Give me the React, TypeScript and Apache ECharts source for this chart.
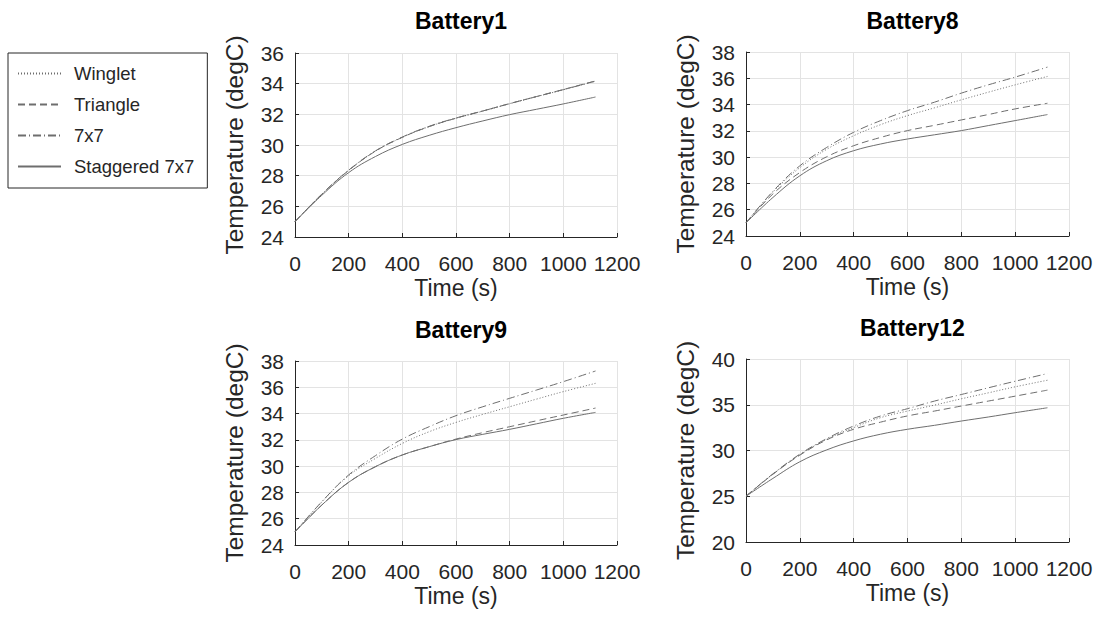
import React, { useEffect, useRef } from "react";
import * as echarts from "echarts";

const TIME = [0, 100, 200, 300, 400, 500, 600, 700, 800, 900, 1000, 1120];
const SERIES_NAMES = ["Winglet", "Triangle", "7x7", "Staggered 7x7"];
const TITLES = ["Battery1", "Battery8", "Battery9", "Battery12"];
const X_TICKS = { min: 0, max: 1200, interval: 200 };
const Y_RANGES = [
  { min: 24, max: 36, interval: 2 },
  { min: 24, max: 38, interval: 2 },
  { min: 24, max: 38, interval: 2 },
  { min: 20, max: 40, interval: 5 },
];

// Battery1
const B1_WINGLET = [25, 26.79, 28.35, 29.6, 30.5, 31.2, 31.74, 32.21, 32.69, 33.15, 33.6, 34.16];
const B1_TRIANGLE = [25, 26.79, 28.34, 29.6, 30.5, 31.2, 31.75, 32.22, 32.7, 33.16, 33.62, 34.18];
const B1_7X7 = [25, 26.8, 28.36, 29.62, 30.52, 31.22, 31.76, 32.22, 32.7, 33.16, 33.61, 34.17];
const B1_STAG = [25, 26.72, 28.2, 29.25, 30.04, 30.63, 31.13, 31.57, 31.98, 32.33, 32.68, 33.13];
// Battery8
const B8_WINGLET = [25, 27.35, 29.2, 30.6, 31.63, 32.47, 33.16, 33.75, 34.36, 34.94, 35.5, 36.14];
const B8_TRIANGLE = [25, 27.2, 28.83, 30.03, 30.87, 31.5, 32.02, 32.42, 32.83, 33.24, 33.67, 34.1];
const B8_7X7 = [25, 27.4, 29.34, 30.74, 31.89, 32.78, 33.54, 34.18, 34.87, 35.5, 36.09, 36.85];
const B8_STAG = [25, 26.93, 28.58, 29.73, 30.49, 31.0, 31.38, 31.7, 32.02, 32.4, 32.78, 33.24];
// Battery9
const B9_WINGLET = [25, 27.28, 29.27, 30.59, 31.73, 32.62, 33.33, 33.94, 34.52, 35.1, 35.67, 36.3];
const B9_TRIANGLE = [25, 27.04, 28.77, 29.96, 30.85, 31.48, 32.06, 32.55, 33.0, 33.45, 33.89, 34.42];
const B9_7X7 = [25, 27.3, 29.33, 30.8, 32.06, 33.0, 33.84, 34.52, 35.16, 35.79, 36.43, 37.24];
const B9_STAG = [25, 27.04, 28.77, 29.96, 30.85, 31.48, 32.02, 32.42, 32.8, 33.22, 33.64, 34.09];
// Battery12
const B12_WINGLET = [25, 27.42, 29.53, 31.23, 32.5, 33.59, 34.31, 34.96, 35.65, 36.3, 36.96, 37.68];
const B12_TRIANGLE = [25, 27.4, 29.49, 31.16, 32.32, 33.1, 33.78, 34.31, 34.86, 35.4, 35.94, 36.6];
const B12_7X7 = [25, 27.45, 29.6, 31.3, 32.68, 33.77, 34.57, 35.4, 36.12, 36.85, 37.57, 38.41];
const B12_STAG = [25, 26.95, 28.77, 30.07, 31.05, 31.78, 32.32, 32.75, 33.22, 33.66, 34.13, 34.67];

const PANELS = [
  [B1_WINGLET, B1_TRIANGLE, B1_7X7, B1_STAG],
  [B8_WINGLET, B8_TRIANGLE, B8_7X7, B8_STAG],
  [B9_WINGLET, B9_TRIANGLE, B9_7X7, B9_STAG],
  [B12_WINGLET, B12_TRIANGLE, B12_7X7, B12_STAG],
];

const FONT = "'Liberation Sans', Arial, Helvetica, sans-serif";
const AXIS_COLOR = "#262626";
const LINE_COLOR = "#6e6e6e";
const DASH_TYPES: any[] = [[1, 2], [7, 4], [8, 3, 1, 3], "solid"];

const GRIDS = [
  { left: 295, top: 53, width: 322, height: 184 },
  { left: 746, top: 52, width: 323, height: 184 },
  { left: 295, top: 361, width: 322, height: 184 },
  { left: 746, top: 359, width: 323, height: 183 },
];
const TITLE_TOPS = [4, 4, 313, 311];

export default function App() {
  const ref = useRef<HTMLDivElement>(null);
  useEffect(() => {
    if (!ref.current) return;
    const chart = echarts.init(ref.current, undefined, { renderer: "svg" });
    const series: any[] = [];
    PANELS.forEach((panel, gi) => {
      panel.forEach((vals, si) => {
        series.push({
          name: SERIES_NAMES[si],
          type: "line",
          xAxisIndex: gi,
          yAxisIndex: gi,
          data: TIME.map((t, i) => [t, vals[i]]),
          smooth: 0.4,
          showSymbol: false,
          symbol: "none",
          z: si === 3 ? 3 : 2,
          lineStyle: { color: LINE_COLOR, width: 1, type: DASH_TYPES[si] },
          itemStyle: { color: LINE_COLOR },
        });
      });
    });
    const option: any = {
      animation: false,
      backgroundColor: "#ffffff",
      textStyle: { fontFamily: FONT },
      title: TITLES.map((t, i) => ({
        text: t,
        left: GRIDS[i].left + GRIDS[i].width / 2,
        top: TITLE_TOPS[i],
        textAlign: "center",
        textStyle: { fontFamily: FONT, fontSize: 23, fontWeight: "bold", color: "#000" },
      })),
      legend: {
        data: SERIES_NAMES,
        orient: "vertical",
        left: 8,
        top: 53,
        padding: [11, 13, 12, 9],
        itemGap: 12,
        itemWidth: 43,
        itemHeight: 14,
        borderColor: AXIS_COLOR,
        borderWidth: 1,
        borderRadius: 0,
        backgroundColor: "#fff",
        itemStyle: { opacity: 0 },
        textStyle: { fontFamily: FONT, fontSize: 18.5, color: AXIS_COLOR, padding: [0, 0, 0, 8] },
      },
      grid: GRIDS.map((g) => ({ ...g })),
      xAxis: GRIDS.map((_, i) => ({
        type: "value",
        gridIndex: i,
        ...X_TICKS,
        name: "Time (s)",
        nameLocation: "middle",
        nameGap: 39,
        nameTextStyle: { fontFamily: FONT, fontSize: 23, color: AXIS_COLOR },
        axisLine: { show: true, lineStyle: { color: AXIS_COLOR, width: 1 } },
        axisTick: { show: true, inside: true, length: 4, lineStyle: { color: AXIS_COLOR } },
        axisLabel: {
          fontFamily: FONT,
          fontSize: 21,
          color: AXIS_COLOR,
          margin: 16,
          formatter: (v: number) => String(v),
        },
        splitLine: { show: true, lineStyle: { color: "#e3e3e3", width: 1 } },
      })),
      yAxis: GRIDS.map((_, i) => ({
        type: "value",
        gridIndex: i,
        ...Y_RANGES[i],
        name: "Temperature (degC)",
        nameLocation: "middle",
        nameGap: 48,
        nameTextStyle: { fontFamily: FONT, fontSize: 24.5, color: AXIS_COLOR },
        axisLine: { show: true, lineStyle: { color: AXIS_COLOR, width: 1 } },
        axisTick: { show: true, inside: true, length: 4, lineStyle: { color: AXIS_COLOR } },
        axisLabel: {
          fontFamily: FONT,
          fontSize: 21,
          color: AXIS_COLOR,
          margin: 11,
          formatter: (v: number) => String(v),
        },
        splitLine: { show: true, lineStyle: { color: "#e3e3e3", width: 1 } },
      })),
      series,
    };
    chart.setOption(option);
    return () => chart.dispose();
  }, []);
  return (
    <div
      ref={ref}
      style={{ position: "fixed", left: 0, top: 0, width: 1102, height: 619, background: "#fff" }}
    />
  );
}
